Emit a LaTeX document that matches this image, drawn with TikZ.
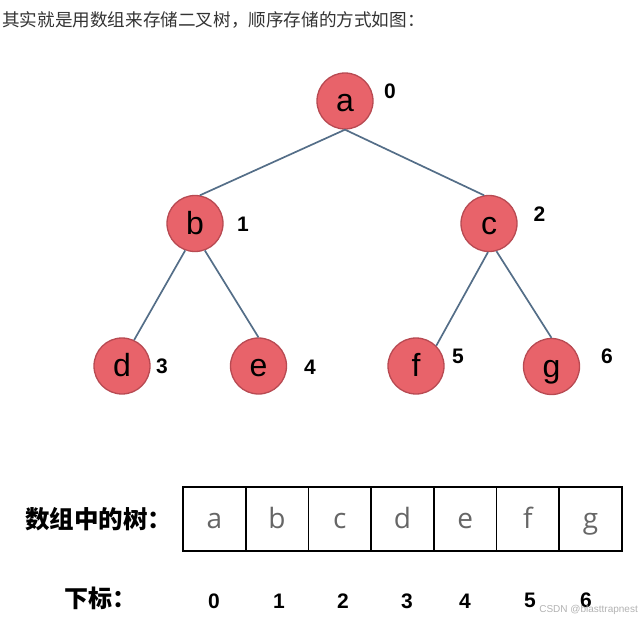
\documentclass[tikz,border=0pt]{standalone}
\usepackage{fontspec}
\setmainfont{Liberation Sans}
\newfontfamily\cjk{Noto Sans CJK SC}
\newfontfamily\cellfont{Open Sans}
\definecolor{nodered}{HTML}{E8636A}
\definecolor{noderim}{HTML}{B84A52}
\definecolor{edgeblue}{HTML}{546E88}
\definecolor{captiongray}{HTML}{333333}

\begin{document}
\begin{tikzpicture}[x=1pt,y=-1pt,
  tnode/.style={circle,draw=noderim,fill=nodered,line width=1.3pt,
    minimum size=56pt,inner sep=0pt,text height=21pt,text depth=0pt,
    font=\fontsize{32}{32}\selectfont},
  idx/.style={font=\fontsize{21}{21}\selectfont\bfseries},
  edge/.style={draw=edgeblue,line width=1.7pt},
  cell/.style={draw,line width=1.7pt,minimum width=62.7pt,minimum height=64pt,
    inner sep=0pt,text height=18pt,text depth=0pt,text=black!60,
    font=\cellfont\fontsize{28}{28}\selectfont}]
  \useasboundingbox (0,0) rectangle (644,621);

  \node[anchor=west,inner sep=0pt,text=captiongray,font=\cjk\fontsize{17.6}{17.6}\selectfont]
    (caption) at (2,20) {其实就是用数组来存储二叉树，顺序存储的方式如图：};

  % the tree
  \node[tnode] (a) at (345,101) {a};
  \node[tnode] (b) at (195,223.5) {b};
  \node[tnode] (c) at (489,223.5) {c};
  \node[tnode] (d) at (122,366) {d};
  \node[tnode] (e) at (258.5,366) {e};
  \node[tnode] (f) at (416,366) {f};
  \node[tnode] (g) at (551.5,366.5) {g};

  \node[idx] (n0) at (390,91) {0};
  \node[idx] (n1) at (243,224) {1};
  \node[idx] (n2) at (539.5,214) {2};
  \node[idx] (n3) at (162,366) {3};
  \node[idx] (n4) at (310,367) {4};
  \node[idx] (n5) at (458,356) {5};
  \node[idx] (n6) at (607,356) {6};

  \draw[edge] (a.south) -- (b.80);
  \draw[edge] (a.south) -- (c.100);
  \draw[edge] (b.250) -- (d.65);
  \draw[edge] (b.290) -- (e.90);
  \draw[edge] (c.268) -- (f.45);
  \draw[edge] (c.285) -- (g.90);

  % the array
  \node[font=\cjk\bfseries\fontsize{24.5}{24.5}\selectfont,anchor=west,inner sep=0pt]
    (arrlabel) at (25,519) {数组中的树：};
  \foreach \ch [count=\i from 0] in {a,b,c,d,e,f,g}
    \node[cell] (cell\i) at ({183+62.7*\i+31.35},519) {\ch};

  \node[font=\cjk\bfseries\fontsize{24}{24}\selectfont,anchor=west,inner sep=0pt]
    (idxlabel) at (64,598) {下标：};
  \node[idx] (i0) at (214,601) {0};
  \node[idx] (i1) at (279,601) {1};
  \node[idx] (i2) at (343,601) {2};
  \node[idx] (i3) at (407,601) {3};
  \node[idx] (i4) at (465,601) {4};
  \node[idx] (i5) at (530,600) {5};
  \node[idx] (i6) at (586,600) {6};

  \node[anchor=east,inner sep=0pt,text=black!30,font=\fontsize{10}{10}\selectfont]
    (mark) at (638,610) {CSDN @blasttrapnest};
\end{tikzpicture}
\end{document}
